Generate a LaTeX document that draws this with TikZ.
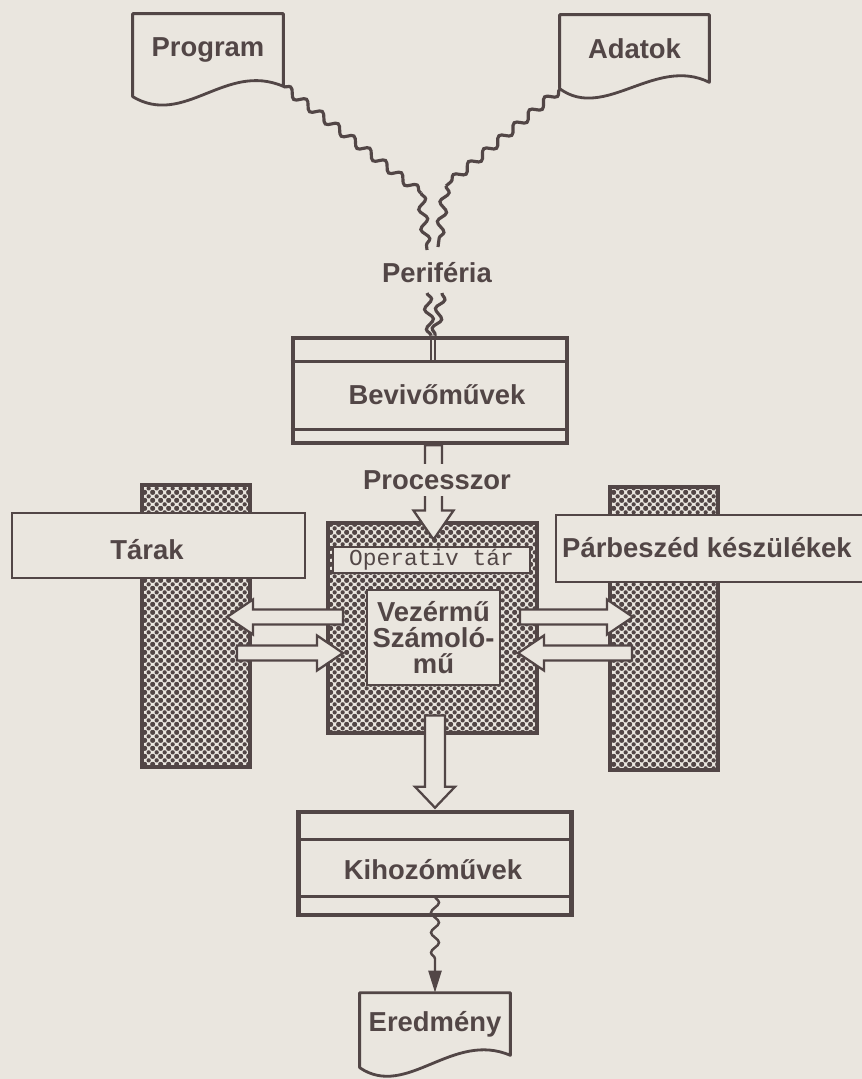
\documentclass[tikz,border=0pt]{standalone}
\usepackage{fontspec}
\setmainfont{Liberation Sans}
\setmonofont{Liberation Mono}
\usepackage{tikz}
\usetikzlibrary{arrows.meta,calc,decorations.pathmorphing,patterns.meta}

\definecolor{ink}{RGB}{82,70,70}
\definecolor{paper}{RGB}{234,230,223}

\pgfdeclarepattern{
  name=halftone,
  type=uncolored,
  bottom left={\pgfpoint{0pt}{0pt}},
  top right={\pgfpoint{4.6pt}{4.6pt}},
  tile size={\pgfpoint{4.6pt}{4.6pt}},
  code={
    \pgfpathcircle{\pgfpoint{0pt}{0pt}}{1.35pt}
    \pgfpathcircle{\pgfpoint{4.6pt}{0pt}}{1.35pt}
    \pgfpathcircle{\pgfpoint{0pt}{4.6pt}}{1.35pt}
    \pgfpathcircle{\pgfpoint{4.6pt}{4.6pt}}{1.35pt}
    \pgfpathcircle{\pgfpoint{2.3pt}{2.3pt}}{1.35pt}
    \pgfusepath{fill}
  }
}

\begin{document}
\begin{tikzpicture}[
  color=ink, font=\fontsize{15.6}{14.8}\selectfont\bfseries,
  docbox/.style={minimum width=3cm,inner sep=0pt},
  doc/.style={draw=ink,line width=1.6pt,line join=round},
  wave/.style={line width=1.8pt,decorate,
    decoration={snake,segment length=0.4cm,amplitude=0.08cm}},
  unit/.style={draw=ink,line width=2.6pt,fill=paper,inner sep=0pt},
  band/.style={line width=1.4pt},
  panel/.style={draw=ink,line width=1.4pt,fill=paper,inner sep=0pt},
  screen/.style={draw=ink,line width=2.6pt,pattern=halftone,pattern color=ink,inner sep=0pt},
  blk/.style n args={3}{draw=ink,line width=1.3pt,fill=paper,line join=miter,
    to path={
      ($(\tikztotarget)!#3!(\tikztostart)$) coordinate (bh)
      ($(\tikztostart)!#1!90:(\tikztotarget)$)
      -- ($(bh)!#1!90:(\tikztotarget)$)
      -- ($(bh)!#2!90:(\tikztotarget)$)
      -- (\tikztotarget)
      -- ($(bh)!#2!-90:(\tikztotarget)$)
      -- ($(bh)!#1!-90:(\tikztotarget)$)
      -- ($(\tikztostart)!#1!-90:(\tikztotarget)$)
      -- cycle}},
]
\path[use as bounding box,fill=paper] (0,0) rectangle (17.24,-21.58);

% ===== inputs =====
\node[docbox,minimum height=1.44cm] (prog) at (4.16,-1.00) {Program};
\draw[doc] (prog.south east) -- (prog.north east) -- (prog.north west) -- ++(0,-1.66)
  .. controls +(1.04,-0.62) and +(-1.16,0.5) .. (prog.south east) -- cycle;
\node[docbox,minimum width=2.98cm,minimum height=1.34cm] (adat) at (12.69,-0.97) {Adatok};
\draw[doc] (adat.south east) -- (adat.north east) -- (adat.north west) -- ++(0,-1.48)
  .. controls +(0.9,-0.66) and +(-1.08,0.54) .. (adat.south east) -- cycle;

\coordinate (pb) at (8.42,-3.86);
\coordinate (pe) at (8.54,-5.00);
\coordinate (ab) at (8.92,-3.72);
\coordinate (ae) at (8.76,-4.94);
\draw[wave] (prog.south east) -- (pb);
\draw[wave] (pb) -- (pe);
\draw[wave] ([yshift=-0.14cm]adat.south west) -- (ab);
\draw[wave] (ab) -- (ae);

\node (peri) at (8.74,-5.46) {Periféria};

% ===== Bevivőművek =====
\node[unit,minimum width=5.48cm,minimum height=2.10cm] (bevi) at (8.60,-7.81) {};
\draw[band] ([yshift=-0.52cm]bevi.north west) -- ([yshift=-0.52cm]bevi.north east);
\draw[band] ([yshift=0.32cm]bevi.south west) -- ([yshift=0.32cm]bevi.south east);
\node (bevil) at (8.74,-7.90) {Bevivőművek};

\coordinate (w1) at (8.54,-5.86);
\coordinate (w2) at (8.84,-5.86);
\coordinate (s1) at ([xshift=0.02cm]bevi.north);
\coordinate (s2) at ([xshift=0.10cm]bevi.north);
\draw[wave] (w1) -- (s1);
\draw[wave] (w2) -- (s2);
\draw[line width=1.6pt] (s1) -- ++(0,-0.52);
\draw[line width=1.6pt] (s2) -- ++(0,-0.52);

% ===== Tárak, Párbeszéd készülékek =====
\node[screen,minimum width=2.16cm,minimum height=5.64cm] (tcol) at (3.92,-12.52) {};
\node[panel,minimum width=5.86cm,minimum height=1.30cm] (tarak) at (3.17,-10.91) {};
\node (tarakl) at (2.94,-11.00) {Tárak};
\node[screen,minimum width=2.16cm,minimum height=5.66cm] (pcol) at (13.28,-12.57) {};
\node[panel,minimum width=6.58cm,minimum height=1.34cm] (parb) at (14.41,-10.97) {};
\node (parbl) at (14.14,-10.96) {Párbeszéd készülékek};

% ===== processzor =====
\node[screen,line width=2.8pt,minimum width=4.18cm,minimum height=4.20cm] (cpu) at (8.65,-12.56) {};
\node[panel,minimum width=3.94cm,minimum height=0.52cm,
  font=\fontsize{13}{13}\selectfont\ttfamily] (opt) at (8.63,-11.20) {Operativ tár};
\node[panel,line width=1.6pt,minimum width=2.66cm,minimum height=1.90cm,align=center]
  (alu) at (8.67,-12.75) {Vezérmű\\Számoló-\\mű};

\draw[blk={0.17cm}{0.40cm}{0.58cm}] ([xshift=0.07cm]bevi.south)
  to ([xshift=0.02cm,yshift=-0.38cm]cpu.north);
\node[fill=paper,inner xsep=3pt,inner ysep=0.13cm] (proc) at (8.74,-9.60) {Processzor};

\coordinate (ca) at (6.86,-12.34);
\coordinate (ta) at (4.54,-12.34);
\coordinate (tb) at (4.74,-13.06);
\coordinate (cb) at (6.86,-13.06);
\coordinate (cc) at (10.40,-12.34);
\coordinate (pc) at (12.66,-12.34);
\coordinate (pd) at (12.64,-13.06);
\coordinate (cd) at (10.36,-13.06);
\foreach \a/\b in {ca/ta,tb/cb,cc/pc,pd/cd}
  \draw[blk={0.15cm}{0.35cm}{0.52cm}] (\a) to (\b);

% ===== outputs =====
\node[unit,minimum width=5.46cm,minimum height=2.06cm] (kiho) at (8.70,-17.27) {};
\draw[band] ([yshift=-0.60cm]kiho.north west) -- ([yshift=-0.60cm]kiho.north east);
\draw[band] ([yshift=0.42cm]kiho.south west) -- ([yshift=0.42cm]kiho.south east);
\node (kihol) at (8.66,-17.40) {Kihozóművek};

\draw[blk={0.20cm}{0.40cm}{0.42cm}] ([xshift=0.05cm,yshift=0.40cm]cpu.south)
  to ([yshift=0.04cm]kiho.north);

\node[docbox,minimum height=1.24cm] (ered) at (8.70,-20.48) {Eredmény};
\draw[doc] (ered.south east) -- (ered.north east) -- (ered.north west) -- ++(0,-1.50)
  .. controls +(0.94,-0.64) and +(-1.16,0.5) .. (ered.south east) -- cycle;
\draw[wave,line width=1.4pt,decoration={post length=0.5cm},
  -{Triangle[length=0.44cm,width=0.26cm]}] ([yshift=0.42cm]kiho.south) -- (ered.north);
\end{tikzpicture}
\end{document}
